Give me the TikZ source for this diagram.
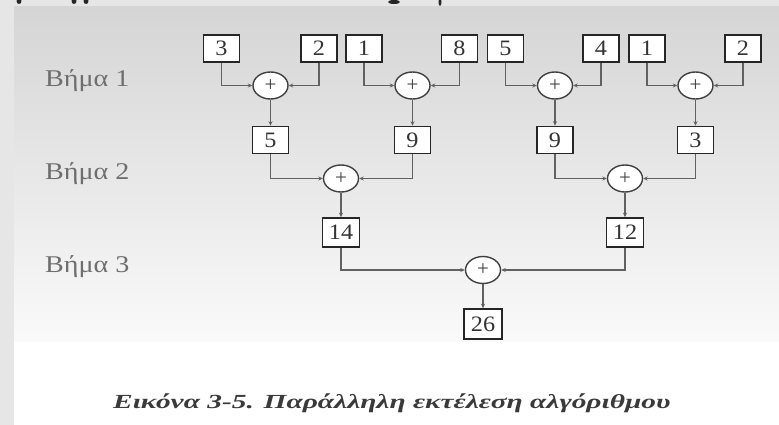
\documentclass[tikz,border=0pt]{standalone}
\usepackage{fontspec}
\setmainfont{Liberation Serif}
\usetikzlibrary{arrows.meta,shapes.geometric}
\definecolor{panel}{HTML}{D5D5D5}
\definecolor{strip}{HTML}{E6E6E6}
\definecolor{lbl}{HTML}{6E6E6E}
\definecolor{cap}{HTML}{3A3A3A}
\newcommand{\wide}[2]{\scalebox{#1}[1]{#2}}
\begin{document}
\begin{tikzpicture}[x=1pt,y=-1pt,
  num/.style={draw=black!85,line width=1.6pt,fill=white,minimum width=36pt,minimum height=27pt,inner sep=0pt,font=\fontsize{22}{22}\selectfont,text=black!80},
  plus/.style={ellipse,draw=black!75,line width=1.4pt,fill=white,minimum width=35pt,minimum height=27pt,inner sep=0pt,font=\fontsize{21}{21}\selectfont,text=black!75},
  conn/.style={draw=black!62,line width=1.4pt,-{Stealth[length=4.5pt,width=4pt]}},
  steplabel/.style={font=\fontsize{24}{24}\selectfont,text=lbl,anchor=base west,inner sep=0pt},
  caption/.style={font=\fontsize{20}{20}\selectfont\bfseries\itshape,text=cap,anchor=base west,inner sep=0pt}]
\useasboundingbox (0,0) rectangle (779,425);
% background
\fill[strip] (0,0) rectangle (779,425);
\shade[top color=panel,bottom color=white!98!black] (14,7) rectangle (779,342);
\fill[white] (14,342) rectangle (779,425);
% cut-off title fragments
\fill[black!85] (19,1) ellipse (2.5pt and 3pt);
\fill[black!85] (74,1) ellipse (2.5pt and 3pt);
\fill[black!85] (86,1) ellipse (2.5pt and 3pt);
\fill[black!85] (394,2) ellipse (6pt and 2pt);
\fill[black!85] (440,2) ellipse (1.5pt and 4pt);
% step labels
\node[steplabel] (s1) at (45,87) {\wide{1.17}{Βήμα 1}};
\node[steplabel] (s2) at (45,179) {\wide{1.17}{Βήμα 2}};
\node[steplabel] (s3) at (45,272) {\wide{1.17}{Βήμα 3}};
% step 1
\node[num] (a1) at (221.5,48.5) {\wide{1.1}{3}};
\node[num] (a2) at (319,48.5) {\wide{1.1}{2}};
\node[num] (a3) at (364,48.5) {\wide{1.1}{1}};
\node[num] (a4) at (459.5,48.5) {\wide{1.1}{8}};
\node[num] (a5) at (505.5,48.5) {\wide{1.1}{5}};
\node[num] (a6) at (601,48.5) {\wide{1.1}{4}};
\node[num] (a7) at (647,48.5) {\wide{1.1}{1}};
\node[num] (a8) at (743,48.5) {\wide{1.1}{2}};
\node[plus] (p1) at (270.5,85.5) {+};
\node[plus] (p2) at (412.5,85.5) {+};
\node[plus] (p3) at (555,85.5) {+};
\node[plus] (p4) at (695.5,85.5) {+};
\node[num] (b1) at (270.5,140) {\wide{1.1}{5}};
\node[num] (b2) at (412.5,140) {\wide{1.1}{9}};
\node[num] (b3) at (555,140) {\wide{1.1}{9}};
\node[num] (b4) at (695.5,140) {\wide{1.1}{3}};
% step 2
\node[plus] (q1) at (341,178.5) {+};
\node[plus] (q2) at (625,178.5) {+};
\node[num,minimum width=37pt,minimum height=29pt] (c1) at (341,232.5) {\wide{1.1}{14}};
\node[num,minimum width=37pt,minimum height=29pt] (c2) at (625,232.5) {\wide{1.1}{12}};
% step 3
\node[plus] (r) at (483,270) {+};
\node[num,minimum width=38pt,minimum height=30pt] (d) at (483,324) {\wide{1.1}{26}};
% connectors
\draw[conn] (a1.south) |- (p1.west);
\draw[conn] (a2.south) |- (p1.east);
\draw[conn] (a3.south) |- (p2.west);
\draw[conn] (a4.south) |- (p2.east);
\draw[conn] (a5.south) |- (p3.west);
\draw[conn] (a6.south) |- (p3.east);
\draw[conn] (a7.south) |- (p4.west);
\draw[conn] (a8.south) |- (p4.east);
\draw[conn] (p1.south) -- (b1.north);
\draw[conn] (p2.south) -- (b2.north);
\draw[conn] (p3.south) -- (b3.north);
\draw[conn] (p4.south) -- (b4.north);
\draw[conn] (b1.south) |- (q1.west);
\draw[conn] (b2.south) |- (q1.east);
\draw[conn] (b3.south) |- (q2.west);
\draw[conn] (b4.south) |- (q2.east);
\draw[conn] (q1.south) -- (c1.north);
\draw[conn] (q2.south) -- (c2.north);
\draw[conn] (c1.south) |- (r.west);
\draw[conn] (c2.south) |- (r.east);
\draw[conn] (r.south) -- (d.north);
% caption
\node[caption] (cap) at (113,408) {\wide{1.47}{Εικόνα 3-5. Παράλληλη εκτέλεση αλγόριθμου}};
\end{tikzpicture}
\end{document}
